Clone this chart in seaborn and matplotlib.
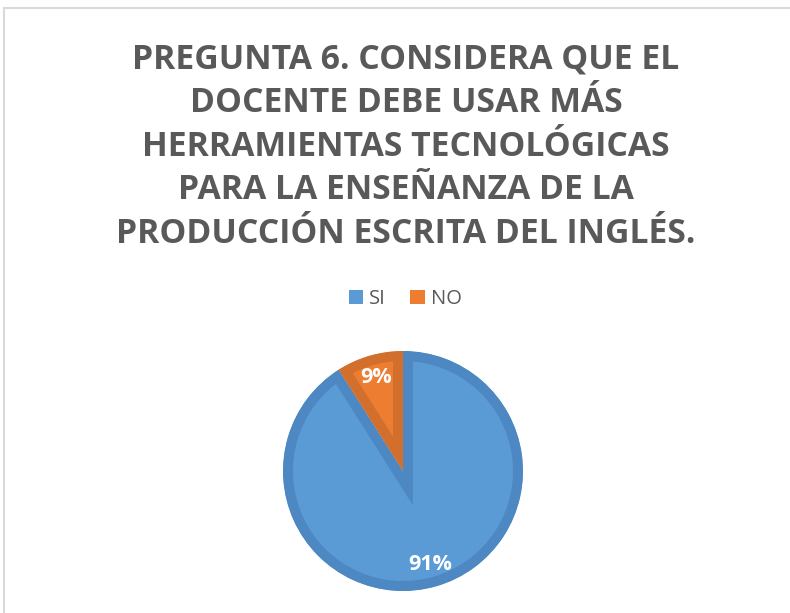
import matplotlib
matplotlib.use("Agg")
import matplotlib.pyplot as plt
import seaborn as sns
from matplotlib.patches import Rectangle

categories = ["SI", "NO"]
values = [91, 9]
title_lines = [
    "PREGUNTA 6. CONSIDERA QUE EL",
    "DOCENTE DEBE USAR MÁS",
    "HERRAMIENTAS TECNOLÓGICAS",
    "PARA LA ENSEÑANZA DE LA",
    "PRODUCCIÓN ESCRITA DEL INGLÉS.",
]
fill_colors = ["#5B9BD5", "#ED7D31"]
edge_colors = ["#4D88C2", "#D26F2D"]

sns.set_theme(style="white")
plt.rcParams["font.family"] = ["Open Sans", "DejaVu Sans"]

W, H = 790, 613
fig = plt.figure(figsize=(W / 100, H / 100), dpi=100)
fig.patch.set_facecolor("white")

# outer chart border
fig.add_artist(Rectangle((4 / W, -0.05), 1.1, 1 - 8 / H + 0.05, transform=fig.transFigure,
                         fill=False, edgecolor="#D9D9D9", linewidth=1.5))

# title
grey = "#595959"
baselines = [68, 112, 156, 199, 243]
for line, yb in zip(title_lines, baselines):
    fig.text(406 / W, 1 - yb / H, line, ha="center", va="baseline",
             fontsize=24.3, fontweight="bold", color=grey)

# pie axes
cx, cy, r = 403, 471, 120
ax = fig.add_axes([(cx - r) / W, 1 - (cy + r) / H, 2 * r / W, 2 * r / H])
wedges, texts, autotexts = ax.pie(
    values, colors=fill_colors, startangle=90, counterclock=False,
    autopct="%.0f%%", pctdistance=0.81,
    wedgeprops=dict(linewidth=0),
    textprops=dict(color="white", fontsize=15.5, fontweight="bold"),
)
for w, ec in zip(wedges, edge_colors):
    w.set_edgecolor(ec)
    w.set_linewidth(14.4)
    w.set_clip_on(True)
    w.set_clip_path(w)
ax.set_xlim(-1, 1)
ax.set_ylim(-1, 1)
ax.set_aspect("equal")
ax.axis("off")

# legend
handles = [Rectangle((0, 0), 1, 1, facecolor=c, edgecolor="none") for c in fill_colors]
fig.legend(handles, categories, loc="center", bbox_to_anchor=(405 / W, 1 - 299 / H),
           ncol=2, frameon=False, fontsize=14.5, labelcolor=grey,
           handlelength=0.72, handleheight=0.72, handletextpad=0.3, columnspacing=1.2)

fig.savefig("out.png", dpi=100, facecolor="white")
